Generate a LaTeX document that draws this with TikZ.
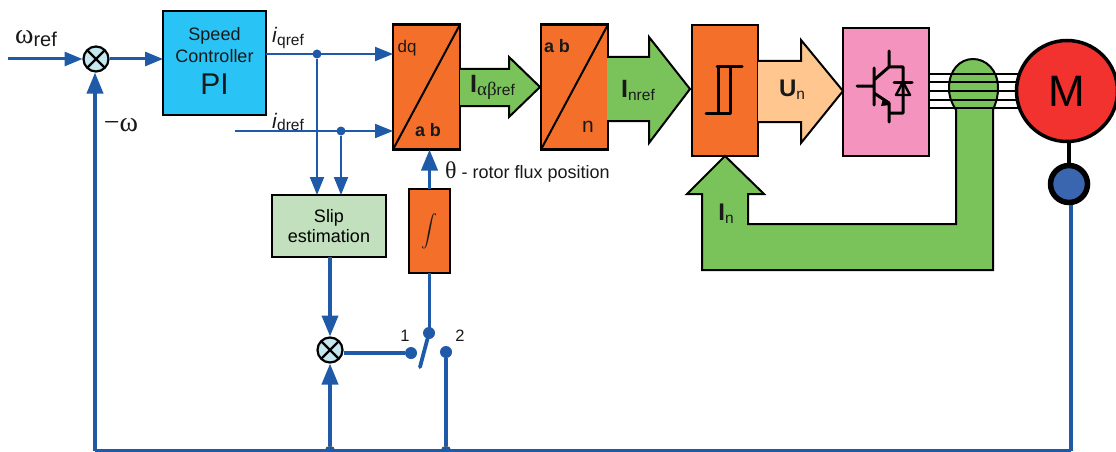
\documentclass[tikz,border=0pt]{standalone}
\usepackage{fontspec}
\setmainfont{Liberation Sans}
\newfontfamily\grk{Liberation Serif}
\usepackage{xcolor}
\usetikzlibrary{arrows.meta,positioning,calc}
\definecolor{wireblue}{RGB}{31,90,168}
\definecolor{ctrlblue}{RGB}{41,196,245}
\definecolor{convorange}{RGB}{244,112,42}
\definecolor{currgreen}{RGB}{122,194,90}
\definecolor{voltpeach}{RGB}{255,199,143}
\definecolor{invpink}{RGB}{244,147,190}
\definecolor{motorred}{RGB}{241,50,47}
\definecolor{sensorblue}{RGB}{58,102,176}
\definecolor{slipgreen}{RGB}{194,224,189}
\definecolor{sumcyan}{RGB}{197,231,238}
\newcommand{\fs}[1]{\fontsize{#1}{#1}\selectfont}
\tikzset{
  blockbox/.style={draw,line width=2.2pt,outer sep=0pt,inner sep=0pt,align=center,font=\fs{18}},
  sumnode/.style={draw,circle,line width=2.2pt,fill=sumcyan,minimum size=25pt,inner sep=0pt,outer sep=1pt,
    path picture={\draw[line width=2.2pt] (path picture bounding box.north west) -- (path picture bounding box.south east)
      (path picture bounding box.north east) -- (path picture bounding box.south west);}},
  heavywire/.style={wireblue,line width=3.8pt},
  wire/.style={wireblue,line width=3pt},
  thinwire/.style={wireblue,line width=2pt},
  head/.style={-{Triangle[length=18pt,width=14pt]}},
  bighead/.style={-{Triangle[length=21pt,width=16pt]}},
  dot/.style={circle,fill=wireblue,inner sep=0pt,minimum size=#1},
  dot/.default=9pt,
  bigarrow/.style={draw,line width=2pt,line join=miter},
  symbolline/.style={line width=3pt,line cap=round,line join=round},
  txt/.style={inner sep=0pt,font=\fs{18},text=black!90}
}
\begin{document}
\begin{tikzpicture}[x=1pt,y=-1pt,>=Latex]
\useasboundingbox (0,0) rectangle (1116,452);
\clip (0,0) rectangle (1116,452);
% blocks of the upper row
\node[sumnode] (sumw) at (96,59) {};
\node[blockbox,line width=2.6pt,fill=ctrlblue,minimum width=103pt,minimum height=104pt] (speed) at (214.5,63) {};
\node[blockbox,fill=convorange,minimum width=67pt,minimum height=125pt] (dq) at (426.5,87) {};
\node[blockbox,fill=convorange,minimum width=67pt,minimum height=125pt,right=81pt of dq] (abn) {};
\node[blockbox,fill=convorange,minimum width=66pt,minimum height=131pt] (hyst) at (725,90.5) {};
\node[blockbox,fill=invpink,minimum width=86pt,minimum height=128pt] (inv) at (886,92) {};
% lower blocks
\node[blockbox,fill=slipgreen,minimum width=114pt,minimum height=62pt] (slip) at (329,226) {Slip\\[2pt]estimation};
\node[blockbox,fill=convorange,minimum width=41pt,minimum height=84pt] (integ) at (429.5,231) {};
\node[sumnode] (sumf) at (330,350) {};
% text inside blocks
\node[txt] (speedtxt) at (214.5,45) {\shortstack{Speed\\[2pt]Controller}};
\node[txt,font=\fs{30}] (pi) at (214.5,84) {PI};
\node[txt,font=\fs{17}] (dqtxt) at (407,48) {dq};
\node[txt,font=\bfseries\fs{18}] (abtxt) at (428,130) {a b};
\node[txt,font=\bfseries\fs{18}] (abtxt2) at (557,46) {a b};
\node[txt,font=\fs{21}] (ntxt) at (588,127) {n};
\node[txt] (inttxt) at (429,231) {\scalebox{1.6}{\normalsize$\displaystyle\int$}};
\draw[line width=2pt] (dq.south west) -- (dq.north east);
\draw[line width=2pt] (abn.south west) -- (abn.north east);
% big arrows
\draw[bigarrow,fill=currgreen] (460,69) -- (509,69) -- (509,57) -- (540,87) -- (509,117) -- (509,106) -- (460,106);
\node[txt] (ialpha) at (492.5,87) {\textbf{\fs{25}I}\raisebox{-3pt}{\fs{15.5}{\grk\fs{19}αβ}ref}};
\draw[bigarrow,fill=currgreen] (607,57) -- (649,57) -- (649,37) -- (690,89) -- (649,143) -- (649,121) -- (607,121);
\node[txt] (inref) at (638,90) {\textbf{\fs{25}I}\raisebox{-3pt}{\fs{15.5}nref}};
\draw[bigarrow,fill=voltpeach] (758,61) -- (801,61) -- (801,40) -- (843,91) -- (801,143) -- (801,122) -- (758,122);
\node[txt] (un) at (792,90) {\textbf{\fs{24}U}\raisebox{-3pt}{\fs{15.5}n}};
% measured currents, with the sensor bulge on the cables
\draw[bigarrow,fill=currgreen] (725,156) -- (764,194) -- (748,194) -- (748,224) -- (956,224) -- (956,110)
  .. controls (950,100) and (949,95) .. (949,88) .. controls (949,70) and (960,59) .. (973,59)
  .. controls (986,59) and (998,70) .. (998,88) .. controls (998,95) and (997,100) .. (993,110)
  -- (993,270) -- (702,270) -- (702,194) -- (687,194) -- cycle;
\node[txt] (in) at (726,214) {\textbf{\fs{24}I}\raisebox{-3pt}{\fs{15.5}n}};
% hysteresis symbol
\draw[symbolline] (706,113) -- (730,113) -- (730,67);
\draw[symbolline] (718,113) -- (718,67);
\draw[symbolline] (717,67) -- (742,67);
% cables, motor, sensor
\foreach \yy in {74,82,91,100,108}
  \draw[line width=1.5pt] (inv.east |- 0,\yy) -- (1030,\yy);
\node[draw,circle,line width=3.5pt,fill=motorred,minimum size=101pt,inner sep=0pt,outer sep=1pt,font=\fs{44}] (motor) at (1067,91) {M};
\node[draw,circle,line width=5.5pt,fill=sensorblue,minimum size=37pt,inner sep=0pt,outer sep=2pt] (sensor) at (1069,184) {};
\draw[line width=4pt] (sensor) -- (sensor |- motor.south);
% igbt symbol
\draw[symbolline] (857,86) -- (874,86) (874,68) -- (874,105) (874,80) -- (889,67) -- (889,51)
  (889,67) -- (903,67) -- (903,113) -- (889,113) (889,122) -- (889,103) -- (874,93);
\fill (883,99) -- (890,105) -- (881,106) -- cycle;
\draw[symbolline] (894,82) -- (912,82);
\draw[line width=2.4pt,line join=round] (903,82) -- (896,95) -- (910,95) -- cycle;
% labels
\node[txt] (wreftxt) at (36,39) {{\grk\fs{28}ω}\raisebox{-3pt}{\fs{20}ref}};
\node[txt] (wtxt) at (121,125) {{\grk\fs{28}−ω}};
\node[txt] (iqtxt) at (288,38) {\textit{\fs{21}i}\raisebox{-2pt}{\fs{15.5}qref}};
\node[txt] (idtxt) at (288,122) {\textit{\fs{21}i}\raisebox{-2pt}{\fs{15.5}dref}};
\node[txt,anchor=west] (thetatxt) at (445,172) {{\grk\fs{24}θ} - rotor flux position};
\node[txt,font=\fs{16.5}] (onetxt) at (405,336) {1};
\node[txt,font=\fs{16.5}] (twotxt) at (460,336) {2};
% signal lines
\coordinate (wref) at (8,59);
\coordinate (idin) at (235,131);
\node[dot] (qdot) at (317,54) {};
\node[dot] (ddot) at (341,131) {};
\node[dot=12pt] (swtop) at (429,333) {};
\node[dot=12pt] (swone) at (411,353) {};
\node[dot=12pt] (swtwo) at (446,352) {};
\coordinate (bladeend) at (420,367);
\coordinate (busleft) at (95,451);
\coordinate (busright) at (1071,451);
\node[circle,fill=wireblue,draw=black!70,inner sep=0pt,minimum size=10pt] (busf) at (330,451) {};
\node[circle,fill=wireblue,draw=black!70,inner sep=0pt,minimum size=10pt] (bustwo) at (446,451) {};
\draw[wire,head] (wref) -- (sumw);
\draw[wire,head] (sumw) -- (speed.west |- sumw);
\draw[thinwire,head] (speed.east |- qdot) -- (dq.west |- qdot);
\draw[thinwire,head] (idin) -- (dq.west |- ddot);
\draw[thinwire,head] (qdot) -- (qdot |- slip.north);
\draw[thinwire,head] (ddot) -- (ddot |- slip.north);
\draw[heavywire,bighead] (sumf |- slip.south) -- (sumf);
\draw[heavywire,bighead] (busf) -- (sumf);
\draw[wire,line width=3.4pt] (sumf.east |- swone) -- (swone);
\draw[heavywire,bighead] (integ.north) -- (integ.north |- dq.south);
\draw[heavywire] (integ.south) -- (integ.south |- swtop);
\draw[heavywire,line cap=round] (swtop) -- (bladeend);
\draw[heavywire] (swtwo) -- (bustwo);
\draw[heavywire,bighead] (busleft) -- (busleft |- sumw.south);
\draw[heavywire] (busleft) -- (busright);
\draw[heavywire] (sensor.south -| busright) -- (busright);
\end{tikzpicture}
\end{document}
